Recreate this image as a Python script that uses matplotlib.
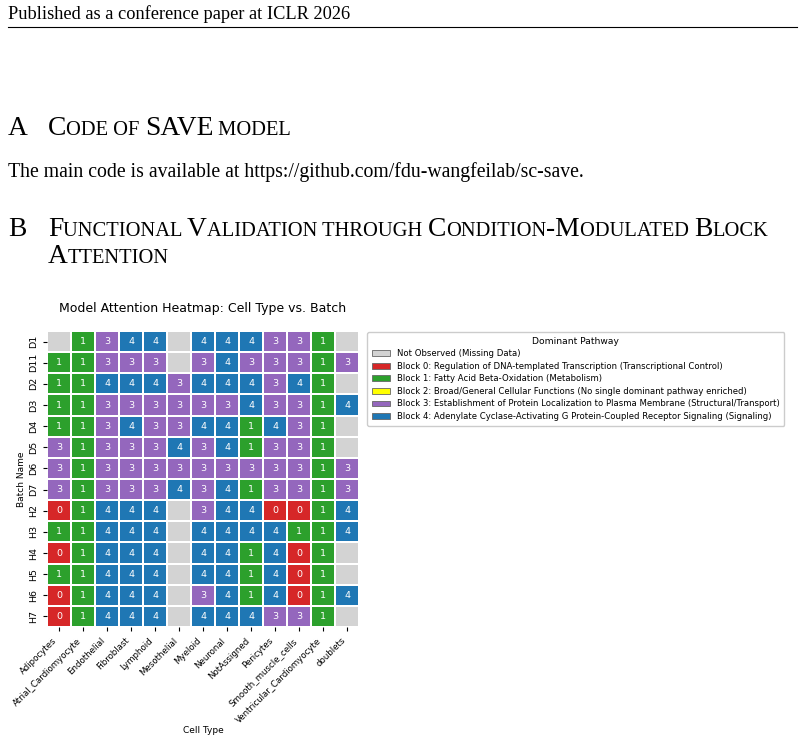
import numpy as np
import matplotlib.pyplot as plt
from matplotlib.colors import ListedColormap, BoundaryNorm
from matplotlib.patches import Patch

# data: dominant block per (batch, cell type); -1 = not observed
cell_types = ["Adipocytes", "Atrial_Cardiomyocyte", "Endothelial", "Fibroblast",
              "Lymphoid", "Mesothelial", "Myeloid", "Neuronal", "NotAssigned",
              "Pericytes", "Smooth_muscle_cells", "Ventricular_Cardiomyocyte", "doublets"]
batches = ["D1", "D11", "D2", "D3", "D4", "D5", "D6", "D7",
           "H2", "H3", "H4", "H5", "H6", "H7"]
blocks = [
    [-1, 1, 3, 4, 4, -1, 4, 4, 4, 3, 3, 1, -1],
    [1, 1, 3, 3, 3, -1, 3, 4, 3, 3, 3, 1, 3],
    [1, 1, 4, 4, 4, 3, 4, 4, 4, 3, 4, 1, -1],
    [1, 1, 3, 3, 3, 3, 3, 3, 4, 3, 3, 1, 4],
    [1, 1, 3, 4, 3, 3, 4, 4, 1, 4, 3, 1, -1],
    [3, 1, 3, 3, 3, 4, 3, 4, 1, 3, 3, 1, -1],
    [3, 1, 3, 3, 3, 3, 3, 3, 3, 3, 3, 1, 3],
    [3, 1, 3, 3, 3, 4, 3, 4, 1, 3, 3, 1, 3],
    [0, 1, 4, 4, 4, -1, 3, 4, 4, 0, 0, 1, 4],
    [1, 1, 4, 4, 4, -1, 4, 4, 4, 4, 1, 1, 4],
    [0, 1, 4, 4, 4, -1, 4, 4, 1, 4, 0, 1, -1],
    [1, 1, 4, 4, 4, -1, 4, 4, 1, 4, 0, 1, -1],
    [0, 1, 4, 4, 4, -1, 3, 4, 1, 4, 0, 1, 4],
    [0, 1, 4, 4, 4, -1, 4, 4, 4, 3, 3, 1, -1],
]
legend_labels = [
    "Not Observed (Missing Data)",
    "Block 0: Regulation of DNA-templated Transcription (Transcriptional Control)",
    "Block 1: Fatty Acid Beta-Oxidation (Metabolism)",
    "Block 2: Broad/General Cellular Functions (No single dominant pathway enriched)",
    "Block 3: Establishment of Protein Localization to Plasma Membrane (Structural/Transport)",
    "Block 4: Adenylate Cyclase-Activating G Protein-Coupled Receptor Signaling (Signaling)",
]
colors = ["#d3d3d3", "#d62728", "#2ca02c", "#ffff00", "#9467bd", "#1f77b4"]

W, H = 805, 741
fig = plt.figure(figsize=(W / 100, H / 100), dpi=100)
renderer = fig.canvas.get_renderer()
SERIF = "Liberation Serif"


def px(x, y):
    return x / W, 1 - y / H


def caps_line(x, y, parts):
    # small caps done by hand: (text, size) pieces placed one after another
    for s, size in parts:
        t = fig.text(*px(x, y), s, fontsize=size, family=SERIF, va="baseline")
        x += t.get_window_extent(renderer).width


# page text
fig.text(*px(8, 19), "Published as a conference paper at ICLR 2026",
         fontsize=13.2, family=SERIF, va="baseline")
fig.add_artist(plt.Line2D([8 / W, 797 / W], [1 - 27 / H] * 2, color="black", lw=0.8))

L, S = 19.8, 14.8
fig.text(*px(8, 135), "A", fontsize=L, family=SERIF, va="baseline")
caps_line(48, 135, [("C", L), ("ODE OF ", S), ("SAVE", L), (" MODEL", S)])
fig.text(*px(8, 177), "The main code is available at https://github.com/fdu-wangfeilab/sc-save.",
         fontsize=14.2, family=SERIF, va="baseline")
fig.text(*px(8, 236), "B", fontsize=L, family=SERIF, va="baseline")
caps_line(48, 236, [("F", L), ("UNCTIONAL ", S), ("V", L), ("ALIDATION THROUGH ", S),
                    ("C", L), ("ONDITION", S), ("-M", L), ("ODULATED ", S),
                    ("B", L), ("LOCK", S)])
caps_line(48, 263, [("A", L), ("TTENTION", S)])

# heatmap
data = np.array(blocks)
cmap = ListedColormap(colors)
norm = BoundaryNorm(np.arange(-1.5, 5.5, 1), cmap.N)
x0, y0 = px(47, 627)
x1, y1 = px(359, 331)
ax = fig.add_axes([x0, y0, x1 - x0, y1 - y0])
ax.pcolormesh(data, cmap=cmap, norm=norm, edgecolors="white", linewidth=1.2)
ax.set_xlim(0, len(cell_types))
ax.set_ylim(len(batches), 0)
for i in range(len(batches)):
    for j in range(len(cell_types)):
        if data[i, j] >= 0:
            ax.text(j + 0.5, i + 0.5, str(data[i, j]), ha="center", va="center",
                    color="white", fontsize=6.8)
ax.set_xticks(np.arange(len(cell_types)) + 0.5)
ax.set_xticklabels(cell_types, rotation=45, ha="right", fontsize=6.2)
ax.set_yticks(np.arange(len(batches)) + 0.5)
ax.set_yticklabels(batches, rotation=90, va="center", fontsize=6.8)
ax.tick_params(length=3, width=0.8)
for sp in ax.spines.values():
    sp.set_visible(False)
ax.set_title("Model Attention Heatmap: Cell Type vs. Batch", fontsize=9, pad=14)
ax.set_xlabel("Cell Type", fontsize=6.5, labelpad=1)
ax.set_ylabel("Batch Name", fontsize=6.5, labelpad=2)

handles = [Patch(facecolor=c, edgecolor="#666666", linewidth=0.6) for c in colors]
fig.legend(handles, legend_labels, title="Dominant Pathway", loc="upper left",
           bbox_to_anchor=px(367, 332), borderaxespad=0, fontsize=6.1, title_fontsize=6.6,
           handlelength=2.2, handleheight=0.7, labelspacing=0.42, borderpad=0.55,
           framealpha=1, edgecolor="#cccccc", fancybox=True)

fig.savefig("out.png", dpi=100)
